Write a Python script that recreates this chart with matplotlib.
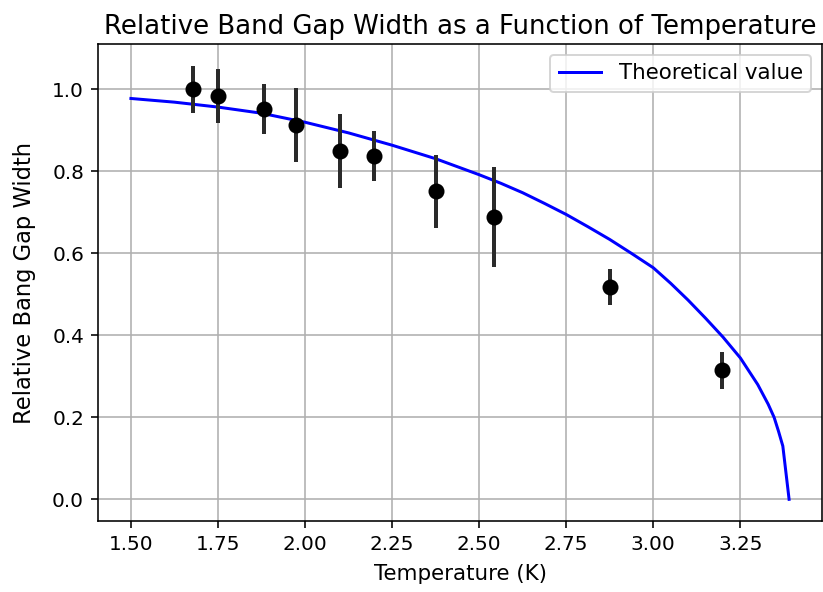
import numpy as np
import matplotlib
matplotlib.use('Agg')
import matplotlib.pyplot as plt

# measured points
temp = [1.679, 1.750, 1.881, 1.974, 2.099, 2.198, 2.376, 2.543, 2.877, 3.198]
gap = [1.000, 0.984, 0.953, 0.914, 0.849, 0.838, 0.752, 0.689, 0.518, 0.315]
gap_err = [0.058, 0.067, 0.061, 0.090, 0.090, 0.061, 0.089, 0.122, 0.045, 0.045]

# theoretical curve
theory_t = [1.50, 1.625, 1.75, 1.875, 2.00, 2.125, 2.25, 2.375, 2.50, 2.5625,
            2.625, 2.6875, 2.75, 2.8125, 2.875, 2.9375, 3.00, 3.05, 3.10, 3.15,
            3.20, 3.25, 3.30, 3.33, 3.347, 3.36, 3.372, 3.39]
theory_gap = [0.978, 0.969, 0.957, 0.942, 0.920, 0.894, 0.864, 0.831, 0.792, 0.771,
              0.748, 0.722, 0.695, 0.665, 0.634, 0.600, 0.565, 0.527, 0.486, 0.442,
              0.396, 0.345, 0.280, 0.232, 0.200, 0.165, 0.130, 0.0]

fig = plt.figure(figsize=(823/144, 592/144), dpi=144)
ax = fig.add_axes([98/823, 1 - 521/592, 724/823, 477/592])

ax.plot(theory_t, theory_gap, color='blue', linewidth=1.5, label='Theoretical value')
ax.errorbar(temp, gap, yerr=gap_err, fmt='o', color='black', ecolor='#2a2a2a',
            elinewidth=2, markersize=7)

ax.set_title('Relative Band Gap Width as a Function of Temperature', fontsize=13, pad=5)
ax.set_xlabel('Temperature (K)', fontsize=10.7, labelpad=5)
ax.set_ylabel('Relative Bang Gap Width', fontsize=11.3, labelpad=8)
ax.grid()
ax.legend(loc='upper right', fontsize=10.7)

fig.savefig('out.png', dpi=144)
